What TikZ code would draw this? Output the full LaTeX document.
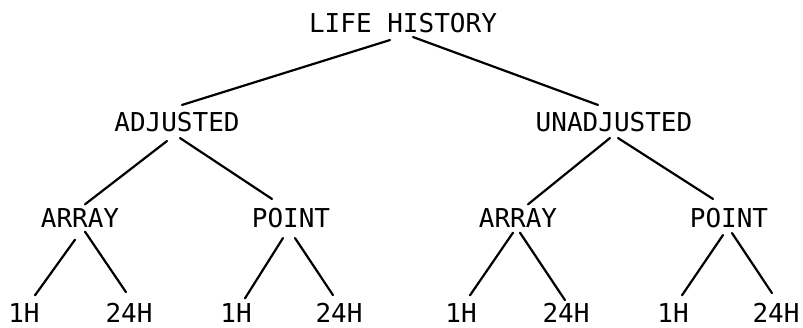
\documentclass[tikz,border=0pt]{standalone}
\usepackage{fontspec}
\setmonofont{DejaVu Sans Mono}
\begin{document}
\begin{tikzpicture}[x=1pt,y=-1pt,
  lbl/.style={inner sep=0pt,anchor=center,font=\ttfamily\fontsize{26}{30}\selectfont},
  link/.style={line width=2.2pt,line cap=round}]
\useasboundingbox (0,0) rectangle (803,328);
% nodes
\node[lbl] (top) at (403,23) {LIFE HISTORY};
\node[lbl] (adj) at (177,122) {ADJUSTED};
\node[lbl] (una) at (614,122) {UNADJUSTED};
\node[lbl] (arl) at (80,218) {ARRAY};
\node[lbl] (ptl) at (291,218) {POINT};
\node[lbl] (arr) at (518,218) {ARRAY};
\node[lbl] (ptr) at (729,218) {POINT};
\node[lbl] (l1) at (24,313) {1H};
\node[lbl] (l2) at (129,313) {24H};
\node[lbl] (l3) at (236,313) {1H};
\node[lbl] (l4) at (339,313) {24H};
\node[lbl] (l5) at (461,313) {1H};
\node[lbl] (l6) at (566,313) {24H};
\node[lbl] (l7) at (673,313) {1H};
\node[lbl] (l8) at (776,313) {24H};
% connectors
\newcommand{\tlink}[6]{\draw[link] ([shift={(#2,#3)}]#1.south) -- ([shift={(#5,#6)}]#4.north);}
\tlink{top}{-13}{7}{adj}{5}{-7}
\tlink{top}{10}{4}{una}{-16}{-7}
\tlink{adj}{-10}{9}{arl}{5}{-4}
\tlink{adj}{3}{6}{ptl}{-19}{-9}
\tlink{una}{-4}{6}{arr}{10}{-4}
\tlink{una}{4}{6}{ptr}{-16}{-9}
\tlink{arl}{-5}{12}{l1}{11}{-8}
\tlink{arl}{5}{4}{l2}{-3}{-11}
\tlink{ptl}{-8}{10}{l3}{9}{-5}
\tlink{ptl}{4}{10}{l4}{-6}{-8}
\tlink{arr}{-5}{5}{l5}{9}{-8}
\tlink{arr}{2}{5}{l6}{-1}{-3}
\tlink{ptr}{-6}{7}{l7}{9}{-8}
\tlink{ptr}{3}{5}{l8}{-4}{-10}
\end{tikzpicture}
\end{document}
